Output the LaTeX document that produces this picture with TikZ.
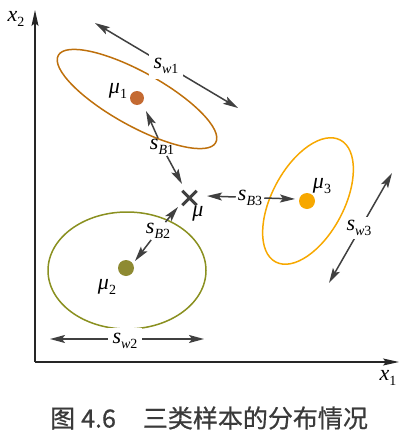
\documentclass[tikz,border=0pt]{standalone}
\usepackage{fontspec}
\usetikzlibrary{arrows.meta}
\newfontfamily\cjk[FakeBold=0.6]{Noto Sans CJK SC}
\newfontfamily\tmfont{Liberation Serif}
\newcommand\Lb[3]{\textit{#1}\raisebox{-5pt}{\fontsize{14}{14}\selectfont\textit{#2}#3}}
\definecolor{eoneline}{HTML}{BE700C}
\definecolor{eonedot}{HTML}{C46A32}
\definecolor{etwoline}{HTML}{8A9020}
\definecolor{etwodot}{HTML}{8E8A32}
\definecolor{ethree}{HTML}{F7A800}
\definecolor{arrgray}{HTML}{404040}
\definecolor{capgray}{HTML}{3A3A3A}
\tikzset{
  tip/.tip={Stealth[length=15pt,width=8pt,inset=3pt]},
  arr/.style={draw=arrgray, line width=1.5pt, -tip},
  darr/.style={draw=arrgray, line width=1.5pt, tip-tip},
  axis/.style={draw=black!85, line width=1.4pt, -{Stealth[length=16pt,width=7pt,inset=3pt]}},
  lab/.style={inner sep=1pt, font=\tmfont\fontsize{22}{24}\selectfont},
  glab/.style={lab, fill=white, inner sep=5pt},
  dot/.style={circle, inner sep=0pt, minimum size=#1},
  ell/.style={line width=1.5pt},
}
\begin{document}
\begin{tikzpicture}[x=1pt,y=-1pt]
\useasboundingbox (0,0) rectangle (411,434);
% axes
\coordinate (O) at (35,362);
\coordinate (ytip) at (35,10);
\coordinate (xtip) at (399,362);
\draw[axis] (O) -- (ytip);
\draw[axis] (O) -- (xtip);
\node[lab] (x2) at (16,19) {\Lb{x}{}{2}};
\node[lab] (x1) at (388,378) {\Lb{x}{}{1}};
% ellipses
\draw[ell, eoneline, shift={(137,99)}, rotate=-29] (0,0) ellipse [x radius=90, y radius=27];
\draw[ell, ethree, shift={(308,201)}, rotate=62] (0,0) ellipse [x radius=69, y radius=36];
\draw[ell, etwoline] (127,270.5) ellipse [x radius=79, y radius=58.5];
% centers
\node[dot=14pt, fill=eonedot] (m1) at (137,98) {};
\node[dot=16pt, fill=etwodot] (m2) at (126,268) {};
\node[dot=16pt, fill=ethree] (m3) at (307,201) {};
\node[inner sep=0pt, minimum size=14pt] (m) at (189.5,198) {};
\draw[arrgray, line width=3pt] (m.north west) -- (m.south east) (m.north east) -- (m.south west);
% labels
\node[lab] (l1) at (118,91) {\Lb{μ}{}{1}};
\node[lab] (l2) at (107,287) {\Lb{μ}{}{2}};
\node[lab] (l3) at (322,186) {\Lb{μ}{}{3}};
\node[lab] (lm) at (198,214) {\textit{μ}};
% within-class spreads
\coordinate (w1a) at (95,23);
\coordinate (w1b) at (238,108);
\draw[darr] (w1a) -- (w1b);
\node[glab] (sw1) at (166,66) {\Lb{s}{w}{1}};
\coordinate (w3a) at (392,173);
\coordinate (w3b) at (329,283);
\draw[darr] (w3a) -- (w3b);
\node[glab, inner sep=3pt] (sw3) at (359,228) {\Lb{s}{w}{3}};
\coordinate (w2a) at (50,339);
\coordinate (w2b) at (204,339);
\draw[darr] (w2a) -- (w2b);
\node[glab] (sw2) at (125,341) {\Lb{s}{w}{2}};
% between-class
\node[lab] (sB1) at (162,147) {\Lb{s}{B}{1}};
\coordinate (b1a) at (146,111);
\coordinate (b1b) at (182,184);
\draw[arr] (sB1) -- (b1a);
\draw[arr] (sB1) -- (b1b);
\node[lab] (sB3) at (250,198) {\Lb{s}{B}{3}};
\coordinate (b3a) at (207,196);
\coordinate (b3b) at (295,199);
\draw[arr] (sB3.west) ++(-1,-1) -- (b3a);
\draw[arr] (sB3.east) ++(1,0) -- (b3b);
\node[lab] (sB2) at (158,231) {\Lb{s}{B}{2}};
\coordinate (b2a) at (178,207);
\coordinate (b2b) at (135,261);
\draw[arr] (sB2) -- (b2a);
\draw[arr] (sB2) -- (b2b);
% caption
\node[anchor=west, inner sep=0pt, text=capgray, font=\cjk\fontsize{25}{28}\selectfont] (cap) at (50,418) {图\hspace{6pt}4.6\hspace{27pt}三类样本的分布情况};
\end{tikzpicture}
\end{document}
